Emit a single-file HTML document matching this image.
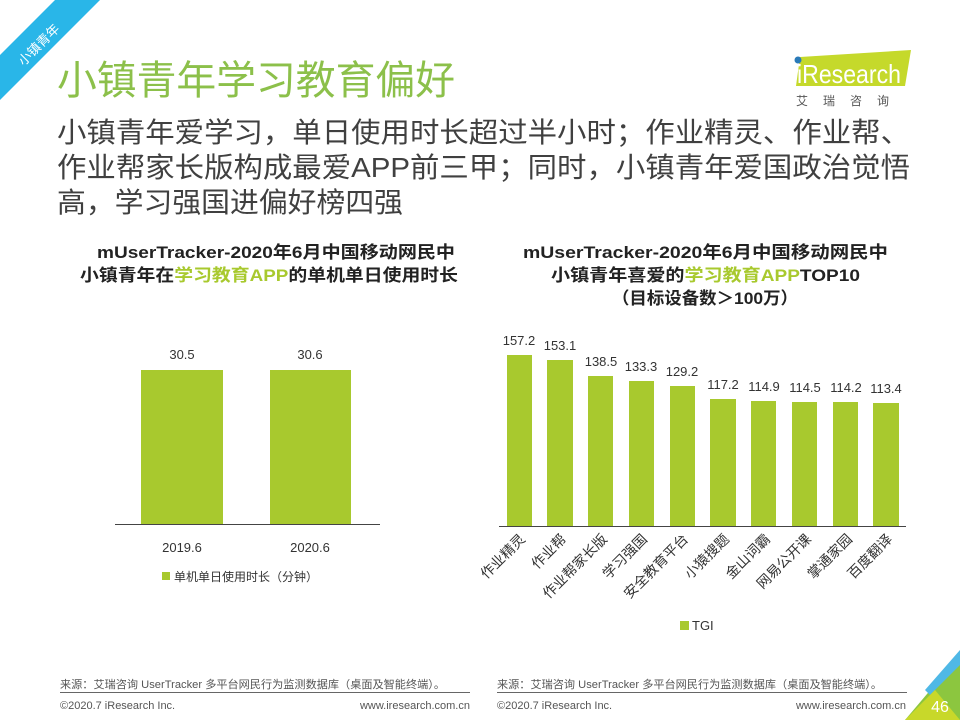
<!DOCTYPE html>
<html><head><meta charset="utf-8"><style>
html,body{margin:0;padding:0;background:#fff;}
svg text{font-family:"Liberation Sans","Noto Sans CJK SC",sans-serif;}
</style></head><body>
<svg width="960" height="720" viewBox="0 0 960 720" xmlns="http://www.w3.org/2000/svg">
<rect width="960" height="720" fill="#fff"/>
<polygon points="0,55 55,0 100,0 0,100" fill="#29b6e8"/>
<text x="0" y="0" transform="translate(42,48) rotate(-45)" fill="#fff" font-size="13" text-anchor="middle">小镇青年</text>
<text x="57" y="94" font-size="40" fill="#8cc04a" textLength="398" lengthAdjust="spacingAndGlyphs">小镇青年学习教育偏好</text>
<polygon points="800,57 911,50 905,86 796,86" fill="#c5d92b"/>
<circle cx="798" cy="60" r="3.5" fill="#2a7ab8"/>
<text x="797" y="83" font-size="26" fill="#fff" textLength="104" lengthAdjust="spacingAndGlyphs">iResearch</text>
<text x="796" y="105" font-size="12" fill="#555" letter-spacing="15">艾瑞咨询</text>
<g font-size="28" fill="#404040">
<text x="57" y="142" textLength="853" lengthAdjust="spacingAndGlyphs">小镇青年爱学习，单日使用时长超过半小时；作业精灵、作业帮、</text>
<text x="57" y="177" textLength="853" lengthAdjust="spacingAndGlyphs">作业帮家长版构成最爱APP前三甲；同时，小镇青年爱国政治觉悟</text>
<text x="57" y="212" textLength="346" lengthAdjust="spacingAndGlyphs">高，学习强国进偏好榜四强</text>
</g>
<g font-weight="bold" font-size="17" fill="#222">
<text x="97" y="258" textLength="358" lengthAdjust="spacingAndGlyphs">mUserTracker-2020年6月中国移动网民中</text>
<text x="80" y="281" textLength="378" lengthAdjust="spacingAndGlyphs">小镇青年在<tspan fill="#a8c92e">学习教育APP</tspan>的单机单日使用时长</text>
</g>
<rect x="141" y="370" width="82" height="154" fill="#a8c92e"/>
<rect x="270" y="370" width="81" height="154" fill="#a8c92e"/>
<line x1="115" y1="524.5" x2="380" y2="524.5" stroke="#444" stroke-width="1"/>
<g font-size="13" fill="#333" text-anchor="middle">
<text x="182" y="359">30.5</text><text x="310" y="359">30.6</text>
<text x="182" y="552">2019.6</text><text x="310" y="552">2020.6</text>
</g>
<rect x="162" y="572" width="8" height="8" fill="#a8c92e"/>
<text x="174" y="581" font-size="12" fill="#333">单机单日使用时长（分钟）</text>
<g font-weight="bold" font-size="17" fill="#222">
<text x="523" y="258" textLength="365" lengthAdjust="spacingAndGlyphs">mUserTracker-2020年6月中国移动网民中</text>
<text x="551" y="281" textLength="309" lengthAdjust="spacingAndGlyphs">小镇青年喜爱的<tspan fill="#a8c92e">学习教育APP</tspan>TOP10</text>
<text x="612" y="304" textLength="186" lengthAdjust="spacingAndGlyphs">（目标设备数＞100万）</text>
</g>
<g fill="#a8c92e">
<rect x="507" y="355" width="25" height="171"/>
<rect x="547" y="360" width="26" height="166"/>
<rect x="588" y="376" width="25" height="150"/>
<rect x="629" y="381" width="25" height="145"/>
<rect x="670" y="386" width="25" height="140"/>
<rect x="710" y="399" width="26" height="127"/>
<rect x="751" y="401" width="25" height="125"/>
<rect x="792" y="402" width="25" height="124"/>
<rect x="833" y="402" width="25" height="124"/>
<rect x="873" y="403" width="26" height="123"/>
</g>
<line x1="499" y1="526.5" x2="906" y2="526.5" stroke="#444" stroke-width="1"/>
<g font-size="13" fill="#333" text-anchor="middle">
<text x="519" y="345">157.2</text><text x="560" y="350">153.1</text><text x="601" y="366">138.5</text>
<text x="641" y="371">133.3</text><text x="682" y="376">129.2</text><text x="723" y="389">117.2</text>
<text x="764" y="391">114.9</text><text x="805" y="392">114.5</text><text x="846" y="392">114.2</text>
<text x="886" y="393">113.4</text>
</g>
<g font-size="14" fill="#333" text-anchor="end">
<text transform="translate(526,540) rotate(-45)">作业精灵</text>
<text transform="translate(567,540) rotate(-45)">作业帮</text>
<text transform="translate(608,540) rotate(-45)">作业帮家长版</text>
<text transform="translate(648,540) rotate(-45)">学习强国</text>
<text transform="translate(689,540) rotate(-45)">安全教育平台</text>
<text transform="translate(730,540) rotate(-45)">小猿搜题</text>
<text transform="translate(771,540) rotate(-45)">金山词霸</text>
<text transform="translate(812,540) rotate(-45)">网易公开课</text>
<text transform="translate(853,540) rotate(-45)">掌通家园</text>
<text transform="translate(893,540) rotate(-45)">百度翻译</text>
</g>
<rect x="680" y="621" width="9" height="9" fill="#a8c92e"/>
<text x="692" y="630" font-size="13" fill="#333">TGI</text>
<g font-size="11" fill="#555">
<text x="60" y="688" textLength="385" lengthAdjust="spacingAndGlyphs">来源：艾瑞咨询 UserTracker 多平台网民行为监测数据库（桌面及智能终端）。</text>
<text x="60" y="709">©2020.7 iResearch Inc.</text>
<text x="470" y="709" text-anchor="end">www.iresearch.com.cn</text>
<text x="497" y="688" textLength="385" lengthAdjust="spacingAndGlyphs">来源：艾瑞咨询 UserTracker 多平台网民行为监测数据库（桌面及智能终端）。</text>
<text x="497" y="709">©2020.7 iResearch Inc.</text>
<text x="906" y="709" text-anchor="end">www.iresearch.com.cn</text>
</g>
<line x1="60" y1="692.5" x2="470" y2="692.5" stroke="#666"/>
<line x1="497" y1="692.5" x2="907" y2="692.5" stroke="#666"/>
<polygon points="960,655 960,720 905,720" fill="#8cc63f"/>
<polygon points="960,650 925,690 930,695 960,665" fill="#4fb8e6"/>
<polygon points="905,720 935,690 960,720" fill="#c8d82a"/>
<text x="940" y="712" font-size="16" fill="#fff" text-anchor="middle">46</text>
</svg>
</body></html>
